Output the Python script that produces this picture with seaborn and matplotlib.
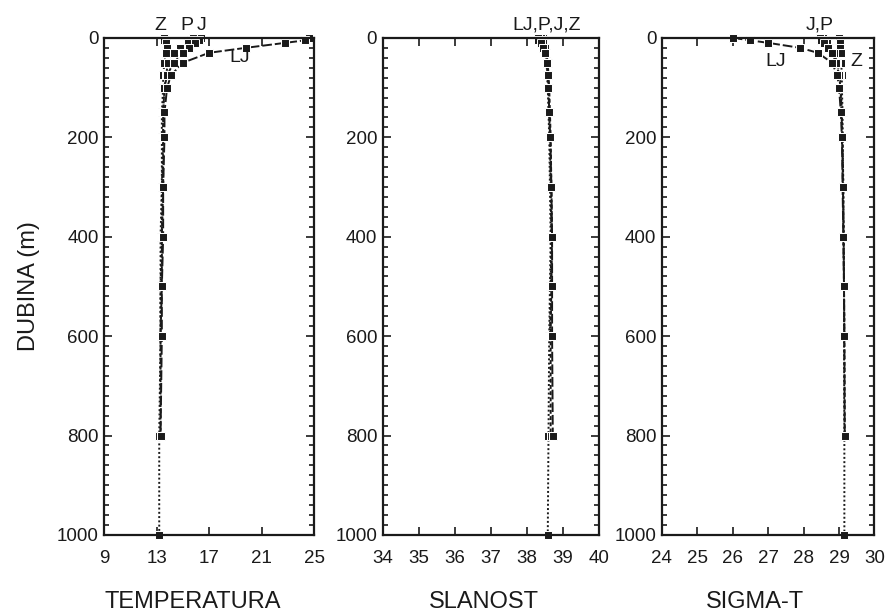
import numpy as np
import pandas as pd
import matplotlib
matplotlib.use('Agg')
import matplotlib.pyplot as plt
from matplotlib.ticker import MultipleLocator
import seaborn as sns

# station depths (m)
depth_z = [0, 5, 10, 20, 30, 50, 75, 100, 150, 200, 300, 400, 500, 600, 800, 1000]
depth_p = [0, 5, 10, 20, 30, 50, 75, 100, 150, 200, 300, 400, 500, 600]
depth_j = [0, 5, 10, 20, 30, 50, 75, 100, 150, 200, 300, 400, 500, 600, 800]
depth_lj = [0, 5, 10, 20, 30, 50, 75, 100, 150, 200, 300, 400, 500, 600, 800]

# temperature (C)
temp_z = [13.6, 13.6, 13.7, 13.8, 13.7, 13.6, 13.5, 13.5, 13.4, 13.4, 13.4, 13.3, 13.3, 13.3, 13.2, 13.2]
temp_p = [15.8, 15.6, 15.4, 14.8, 14.3, 13.9, 13.7, 13.6, 13.5, 13.5, 13.4, 13.4, 13.3, 13.3]
temp_j = [16.4, 16.2, 15.9, 15.5, 15.0, 14.3, 13.8, 13.6, 13.5, 13.5, 13.5, 13.4, 13.4, 13.3, 13.3]
temp_lj = [24.6, 24.3, 22.8, 19.8, 17.0, 15.0, 14.1, 13.8, 13.6, 13.6, 13.5, 13.5, 13.4, 13.4, 13.3]

# salinity
sal_z = [38.45, 38.46, 38.48, 38.50, 38.52, 38.55, 38.56, 38.58, 38.60, 38.62, 38.64, 38.66, 38.64, 38.62, 38.60, 38.58]
sal_p = [38.40, 38.42, 38.45, 38.48, 38.52, 38.55, 38.58, 38.60, 38.62, 38.64, 38.66, 38.68, 38.66, 38.64]
sal_j = [38.38, 38.40, 38.44, 38.50, 38.54, 38.58, 38.60, 38.62, 38.64, 38.66, 38.68, 38.70, 38.68, 38.66, 38.66]
sal_lj = [38.30, 38.32, 38.38, 38.45, 38.50, 38.55, 38.58, 38.60, 38.62, 38.65, 38.68, 38.70, 38.70, 38.70, 38.72]

# sigma-t
sig_z = [29.00, 29.00, 29.02, 29.03, 29.05, 29.06, 29.08, 29.08, 29.10, 29.10, 29.12, 29.13, 29.14, 29.14, 29.15, 29.15]
sig_p = [28.55, 28.60, 28.65, 28.72, 28.85, 28.95, 29.02, 29.05, 29.08, 29.10, 29.12, 29.13, 29.14, 29.15]
sig_j = [28.45, 28.50, 28.58, 28.68, 28.80, 28.92, 29.00, 29.04, 29.07, 29.09, 29.11, 29.13, 29.14, 29.15, 29.16]
sig_lj = [26.00, 26.50, 27.00, 27.90, 28.40, 28.80, 28.95, 29.00, 29.05, 29.08, 29.10, 29.12, 29.14, 29.15, 29.16]

stations = ['Z', 'P', 'J', 'LJ']
depths = [depth_z, depth_p, depth_j, depth_lj]
rows = []
for st, d, t, s, g in zip(stations, depths, [temp_z, temp_p, temp_j, temp_lj],
                          [sal_z, sal_p, sal_j, sal_lj], [sig_z, sig_p, sig_j, sig_lj]):
    for i in range(len(d)):
        rows.append({'station': st, 'depth': d[i], 'temp': t[i], 'sal': s[i], 'sig': g[i]})
df = pd.DataFrame(rows)

sns.set_style('ticks')
plt.rcParams['font.family'] = ['Liberation Sans', 'DejaVu Sans']
ink = '#1a1a1a'

fig = plt.figure(figsize=(8.86, 6.11), dpi=100)
bottom, height = 0.1245, 0.8135
ax1 = fig.add_axes([0.1175, bottom, 0.237, height])
ax2 = fig.add_axes([0.432, bottom, 0.244, height])
ax3 = fig.add_axes([0.747, bottom, 0.240, height])

dashes = {'Z': (1, 1.2), 'P': (1.2, 1.2), 'J': (2, 1.2), 'LJ': (5, 1.5)}

panels = [
    (ax1, 'temp', 'TEMPERATURA', (9, 25), [9, 13, 17, 21, 25], 0.42),
    (ax2, 'sal', 'SLANOST', (34, 40), list(range(34, 41)), 0.47),
    (ax3, 'sig', 'SIGMA-T', (24, 30), list(range(24, 31)), 0.44),
]

for ax, col, label, xlim, xticks, lx in panels:
    sns.lineplot(data=df, x=col, y='depth', style='station', dashes=dashes,
                 markers={'Z': 's', 'P': 's', 'J': 's', 'LJ': 's'},
                 color=ink, markersize=6, linewidth=1.4, sort=False,
                 estimator=None, legend=False, ax=ax, clip_on=False)
    ax.set_xlim(*xlim)
    ax.set_ylim(1000, 0)
    ax.set_xticks(xticks)
    ax.set_yticks(range(0, 1001, 200))
    ax.yaxis.set_minor_locator(MultipleLocator(20))
    ax.tick_params(direction='in', top=True, right=True, labelsize=13.5,
                   length=6, width=1.2, colors=ink)
    ax.tick_params(which='minor', direction='in', left=True, right=True,
                   length=3.5, width=1.2, colors=ink)
    ax.tick_params(axis='x', pad=11)
    ax.tick_params(axis='y', pad=4)
    for sp in ax.spines.values():
        sp.set_linewidth(1.6)
        sp.set_color(ink)
    ax.set_xlabel(label, fontsize=17, color=ink)
    ax.xaxis.set_label_coords(lx, -0.112)
    ax.set_ylabel('')

ax1.set_ylabel('DUBINA (m)', fontsize=17, labelpad=12, color=ink)

# station labels
ax1.text(13.3, -8, 'Z', ha='center', va='bottom', fontsize=14, color=ink)
ax1.text(15.3, -8, 'P', ha='center', va='bottom', fontsize=14, color=ink)
ax1.text(16.4, -8, 'J', ha='center', va='bottom', fontsize=14, color=ink)
ax1.text(19.3, 40, 'LJ', ha='center', va='center', fontsize=14, color=ink)
ax2.text(38.55, -8, 'LJ,P,J,Z', ha='center', va='bottom', fontsize=14, color=ink)
ax3.text(28.45, -8, 'J,P', ha='center', va='bottom', fontsize=14, color=ink)
ax3.text(27.2, 48, 'LJ', ha='center', va='center', fontsize=14, color=ink)
ax3.text(29.5, 48, 'Z', ha='center', va='center', fontsize=14, color=ink)

fig.savefig('out.png', dpi=100)
